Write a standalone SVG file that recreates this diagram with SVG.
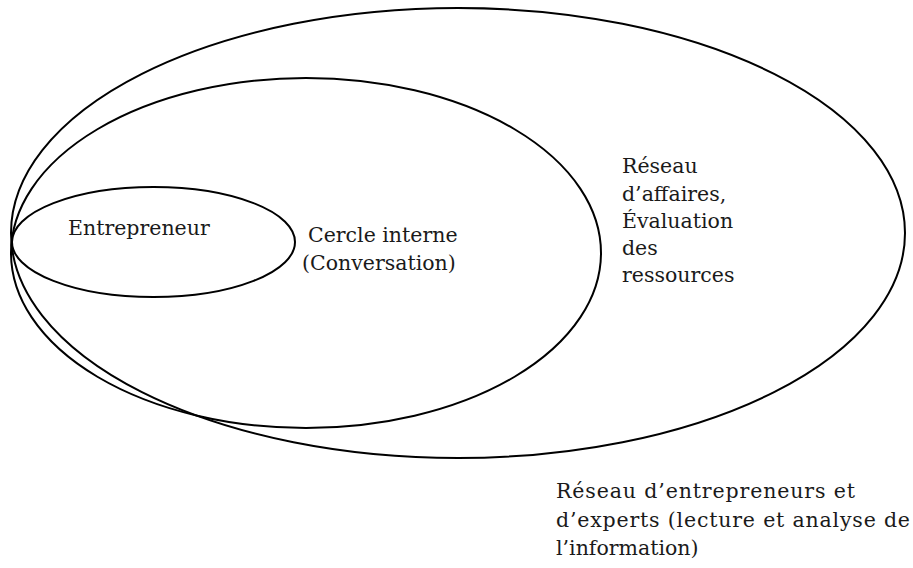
<svg xmlns="http://www.w3.org/2000/svg" width="913" height="568" viewBox="0 0 913 568">
<style>
.ring{fill:none;stroke:#000;stroke-width:2}
.t{font-family:"DejaVu Serif","Liberation Serif",serif;font-size:20.5px;fill:#1a1a1a}
</style>
<rect width="913" height="568" fill="#fff"/>
<g id="outer">
<ellipse class="ring" cx="458" cy="233" rx="447" ry="225"/>
<text class="t" x="556" y="498" textLength="299" lengthAdjust="spacing">Réseau d’entrepreneurs et</text>
<text class="t" x="556" y="527" textLength="354" lengthAdjust="spacing">d’experts (lecture et analyse de</text>
<text class="t" x="556" y="555">l’information)</text>
</g>
<g id="middle">
<ellipse class="ring" cx="306" cy="253" rx="295" ry="175"/>
<text class="t" x="308" y="242">Cercle interne</text>
<text class="t" x="302" y="270">(Conversation)</text>
</g>
<g id="network">
<text class="t" x="622" y="173">Réseau</text>
<text class="t" x="622" y="201">d’affaires,</text>
<text class="t" x="622" y="228">Évaluation</text>
<text class="t" x="622" y="255">des</text>
<text class="t" x="622" y="282">ressources</text>
</g>
<g id="inner">
<ellipse class="ring" cx="153.5" cy="242" rx="141.5" ry="55"/>
<text class="t" x="68" y="235">Entrepreneur</text>
</g>
<g id="connectors"/>
</svg>
